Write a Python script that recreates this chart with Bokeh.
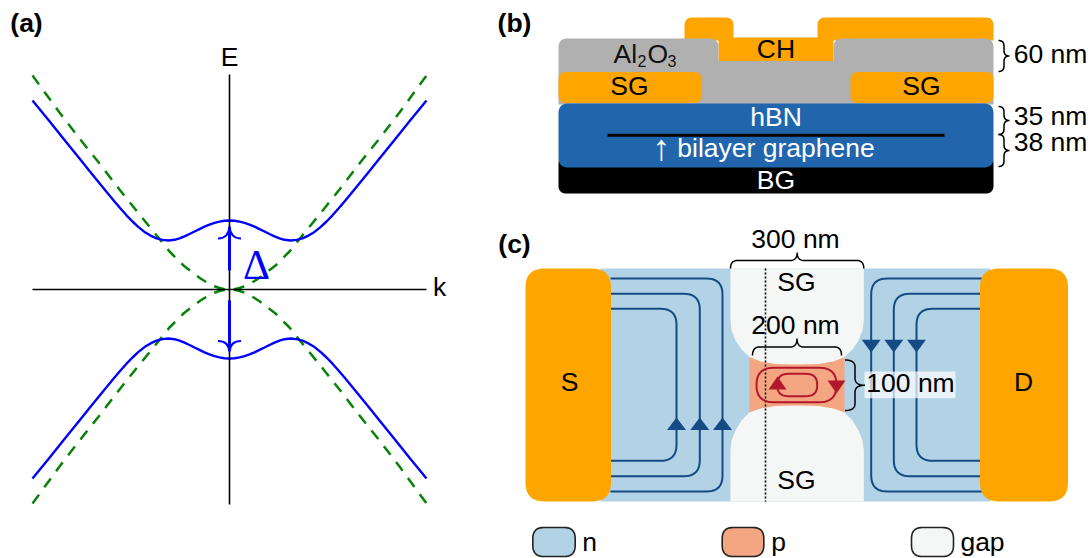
import numpy as np
from bokeh.plotting import figure
from bokeh.core.properties import value
from bokeh.embed import file_html
from bokeh.resources import INLINE

# ---- panel (a): band structure (k right of the axis, E above it)
K_BAND = [0, 5, 10, 15, 20, 25, 30, 35, 40, 45, 50, 55, 61, 67, 73, 79, 85, 91, 97, 103, 109, 115, 121, 129, 140, 150, 165, 180, 197]
E_BAND = [69, 68.7, 67.9, 66.6, 64.9, 62.8, 60.4, 58, 55.5, 53.2, 51.2, 49.7, 49, 49.6, 51.2, 53.9, 57.6, 62.4, 68, 74.2, 81, 88, 95.2, 105, 118.6, 131, 149.6, 168.2, 189]
K_FREE = [0, 5, 10, 15, 20, 25, 29, 35, 46, 60, 72, 90, 110, 130, 150, 170, 197]
E_FREE = [0, 0.4, 1.5, 3.2, 5.5, 8.5, 11, 15.5, 24, 38, 53, 75, 100, 126, 151, 177, 214]

# ---- colours
BLUE = "#0000ff"
GREEN = "#0a820a"
ORANGE = "#ffa500"
GREY = "#b0b0b0"
HBN = "#2166ac"
N_FILL = "#b2d3e6"
P_FILL = "#f4a582"
GAP_FILL = "#f5f7f6"
EDGE_N = "#154a85"
EDGE_P = "#b2182b"

FONT = "Liberation Sans"

# ---- labels: text, x, y, colour, size, style
LABELS = [
    ("(a)", 26, 22.5, "black", 26.5, "bold"),
    ("(b)", 514, 22.5, "black", 26.5, "bold"),
    ("(c)", 514, 243.5, "black", 26.5, "bold"),
    ("E", 229, 56.5, "black", 26.5, "normal"),
    ("k", 439, 286.5, "black", 26.5, "normal"),
    ("CH", 775.5, 48.5, "black", 26.5, "normal"),
    ("SG", 629, 85.5, "black", 26.5, "normal"),
    ("SG", 921, 85.5, "black", 26.5, "normal"),
    ("hBN", 775.5, 116.5, "white", 26.5, "normal"),
    ("bilayer graphene", 775.5, 147.5, "white", 26.5, "normal"),
    ("BG", 775.5, 179.5, "white", 26.5, "normal"),
    ("60 nm", 1050, 53.5, "black", 26.5, "normal"),
    ("35 nm", 1050, 115.5, "black", 26.5, "normal"),
    ("38 nm", 1050, 141.5, "black", 26.5, "normal"),
    ("300 nm", 795, 238.5, "black", 26.5, "normal"),
    ("200 nm", 795, 324.5, "black", 26.5, "normal"),
    ("100 nm", 910, 382.5, "black", 26.5, "normal"),
    ("SG", 796, 281.5, "black", 26.5, "normal"),
    ("SG", 796, 479.5, "black", 26.5, "normal"),
    ("S", 569, 381.5, "black", 26.5, "normal"),
    ("D", 1023, 381.5, "black", 26.5, "normal"),
    ("n", 589, 541.5, "black", 26.5, "normal"),
    ("p", 778, 541.5, "black", 26.5, "normal"),
    ("gap", 982, 541.5, "black", 26.5, "normal"),
]


def rounded(pts, radii, closed=True):
    """Polygon or open path through pts with rounded corners of the given radii."""
    pts = [np.array(q, float) for q in pts]
    n = len(pts)
    out = []
    for i in range(n):
        r = radii[i] if isinstance(radii, (list, tuple)) else radii
        end = not closed and (i == 0 or i == n - 1)
        if r == 0 or end:
            out.append(pts[i])
            continue
        a = pts[i - 1]
        b = pts[i]
        c = pts[(i + 1) % n]
        p0 = b + (a - b) / np.linalg.norm(a - b) * r
        p1 = b + (c - b) / np.linalg.norm(c - b) * r
        for t in np.linspace(0, 1, 12):
            out.append((1 - t) ** 2 * p0 + 2 * t * (1 - t) * b + t ** 2 * p1)
    arr = np.array(out)
    return arr[:, 0].tolist(), arr[:, 1].tolist()


def rrect(x0, y0, x1, y1, r):
    return rounded([(x0, y0), (x1, y0), (x1, y1), (x0, y1)], r)


def brace(x0, y0, x1, y1, h, r=None):
    """Curly brace from (x0,y0) to (x1,y1); the tip points to the left of travel (up / right)."""
    a = np.array([x0, y0], float)
    b = np.array([x1, y1], float)
    L = np.linalg.norm(b - a)
    d = (b - a) / L
    nrm = np.array([d[1], -d[0]])
    r = r if r is not None else h / 2
    t = np.linspace(0, 1, 12)[:, None]
    seg = []
    def q(p0, c, p1):
        seg.append((1 - t) ** 2 * p0 + 2 * t * (1 - t) * c + t ** 2 * p1)
    def P(u, v):
        return np.array([[u, v]], float)
    q(P(0, 0), P(0, h / 2), P(r, h / 2))
    q(P(L / 2 - r, h / 2), P(L / 2, h / 2), P(L / 2, h))
    q(P(L / 2, h), P(L / 2, h / 2), P(L / 2 + r, h / 2))
    q(P(L - r, h / 2), P(L, h / 2), P(L, 0))
    uv = np.vstack(seg)
    xy = a + uv[:, [0]] * d + uv[:, [1]] * nrm
    return xy[:, 0].tolist(), xy[:, 1].tolist()


p = figure(width=1088, height=558, x_range=(0, 1088), y_range=(558, 0),
           output_backend="svg", toolbar_location=None, min_border=0)
p.axis.visible = False
p.grid.visible = False
p.outline_line_color = None

# ---------------- panel (a)
X0, Y0 = 229, 289
k = np.array(K_BAND, float)
e = np.array(E_BAND, float)
kf = np.array(K_FREE, float)
ef = np.array(E_FREE, float)
xf = np.concatenate([X0 - kf[::-1], X0 + kf[1:]])
yf = np.concatenate([ef[::-1], ef[1:]])
p.line(xf, Y0 - yf, line_color=GREEN, line_width=2.5, line_dash="11 9")
p.line(xf, Y0 + yf, line_color=GREEN, line_width=2.5, line_dash="11 9")
xb = np.concatenate([X0 - k[::-1], X0 + k[1:]])
yb = np.concatenate([e[::-1], e[1:]])
p.line(xb, Y0 - yb, line_color=BLUE, line_width=2.4)
p.line(xb, Y0 + yb, line_color=BLUE, line_width=2.4)
p.line([32, 426], [Y0, Y0], line_color="black", line_width=1.6)
p.line([X0, X0], [74, 504], line_color="black", line_width=1.6)
p.line([X0, X0], [270, 227], line_color=BLUE, line_width=3)
p.line([X0, X0], [300, 350], line_color=BLUE, line_width=3)
p.quadratic(x0=[X0, X0], y0=[226, 226], x1=[217.5, 240.5], y1=[238, 238],
            cx=[X0 - 1, X0 + 1], cy=[238, 238], line_color=BLUE, line_width=2)
p.quadratic(x0=[X0, X0], y0=[351, 351], x1=[217.5, 240.5], y1=[340.5, 340.5],
            cx=[X0 - 1, X0 + 1], cy=[340.5, 340.5], line_color=BLUE, line_width=2)
p.text([256], [264], text=["\u0394"], text_color=BLUE, text_font=value("Liberation Serif"),
       text_font_size="42px", text_align="center", text_baseline="middle")

# ---------------- panel (b)
xs, ys = rounded([(684, 40), (684, 17), (733, 17), (733, 37), (817, 37), (817, 17), (993, 17), (993, 40),
                  (833, 40), (833, 61), (718, 61), (718, 40)],
                 [0, 8, 8, 0, 0, 8, 8, 0, 0, 0, 0, 0])
p.patch(xs, ys, fill_color=ORANGE, line_color=None)
xs, ys = rounded([(558, 38), (718, 38), (718, 60.5), (833, 60.5), (833, 38), (993, 38), (993, 104), (558, 104)],
                 [9, 9, 0, 0, 9, 9, 0, 0])
p.patch(xs, ys, fill_color=GREY, line_color=None)
for x0, x1 in [(558, 701), (850, 993)]:
    xs, ys = rrect(x0, 71.5, x1, 102.5, 8)
    p.patch(xs, ys, fill_color=ORANGE, line_color=None)
xs, ys = rrect(558, 155, 993, 193, 8)
p.patch(xs, ys, fill_color="black", line_color=None)
xs, ys = rrect(558, 103, 993, 167, 10)
p.patch(xs, ys, fill_color=HBN, line_color=None)
p.line([607, 944], [134.7, 134.7], line_color="black", line_width=3)
for args in [(998, 40, 998, 71, 11), (998, 106, 998, 134, 11), (998, 134, 998, 166, 11)]:
    xs, ys = brace(*args)
    p.line(xs, ys, line_color="black", line_width=1.5)
# Al2O3 with real subscripts
for txt, x, y, size in [("Al", 613, 53.5, 26.5), ("2", 637, 60.5, 16), ("O", 647, 53.5, 26.5), ("3", 667, 60.5, 16)]:
    p.text([x], [y], text=[txt], text_color="#111111", text_font=value(FONT), text_font_size=f"{size}px",
           text_align="left", text_baseline="middle")
p.text([661], [147], text=["\u2191"], text_color="white", text_font=value(FONT), text_font_size="36px",
       text_align="center", text_baseline="middle")

# ---------------- panel (c)
p.quad(left=[600], right=[990], top=[268], bottom=[501], fill_color=N_FILL, line_color=None)
p.quad(left=[749], right=[844], top=[350], bottom=[418], fill_color=P_FILL, line_color=None)
GX = [730, 731, 735, 741, 749, 760, 775, 796.6, 818, 833, 844, 852, 858, 862, 863.3]
GY_TOP = [320, 330, 340, 349, 356.5, 361, 363.5, 364, 363.5, 361, 356.5, 349, 340, 330, 320]
GY_BOT = [450, 440, 430, 420, 412, 408, 405.5, 405, 405.5, 408, 412, 420, 430, 440, 450]
p.patch([730] + GX + [863.3], [268] + GY_TOP + [268], fill_color=GAP_FILL, line_color=None)
p.patch([730] + GX + [863.3], [501] + GY_BOT + [501], fill_color=GAP_FILL, line_color=None)
p.line([765, 765], [268, 501], line_color="black", line_width=1.6, line_dash="2 2")

for xv, yt, yb_ in [(722, 278, 491), (699.3, 293.3, 475.7), (676, 308.3, 460.3)]:
    xs, ys = rounded([(610, yt), (xv, yt), (xv, yb_), (610, yb_)], 16, closed=False)
    p.line(xs, ys, line_color=EDGE_N, line_width=2)
    p.patch([xv - 9.5, xv + 9.5, xv], [429.5, 429.5, 417], fill_color=EDGE_N, line_color=None)
for xv, yt, yb_ in [(870.7, 278, 491), (893.3, 293.3, 475.7), (916, 308.3, 460.3)]:
    xs, ys = rounded([(982, yt), (xv, yt), (xv, yb_), (982, yb_)], 16, closed=False)
    p.line(xs, ys, line_color=EDGE_N, line_width=2)
    p.patch([xv - 9.5, xv + 9.5, xv], [339.3, 339.3, 352], fill_color=EDGE_N, line_color=None)

xs, ys = rrect(756, 367.3, 836, 401.7, 17)
p.patch(xs, ys, fill_color=None, line_color=EDGE_P, line_width=2)
xs, ys = rrect(776.7, 373.3, 816.7, 395.7, 11)
p.patch(xs, ys, fill_color=None, line_color=EDGE_P, line_width=2)
p.patch([768, 786, 777], [389, 389, 376], fill_color=EDGE_P, line_color=None)
p.patch([827, 845, 836], [380, 380, 393], fill_color=EDGE_P, line_color=None)

xs, ys = rrect(525, 268, 610.5, 501, 19)
p.patch(xs, ys, fill_color=ORANGE, line_color=None)
xs, ys = rrect(979.5, 268, 1067.5, 501, 19)
p.patch(xs, ys, fill_color=ORANGE, line_color=None)

p.quad(left=[864], right=[955], top=[371], bottom=[397.7], fill_color="white", fill_alpha=0.7, line_color=None)
for args, h in [((730, 268, 863.3, 268), 16), ((752, 355, 841, 355), 17), ((844.5, 359.5, 844.5, 410), 20)]:
    xs, ys = brace(*args, h, r=7)
    p.line(xs, ys, line_color="black", line_width=1.5)

for (x0, x1), fill in zip([(532.3, 574.7), (721.7, 763.3), (911, 953)], [N_FILL, P_FILL, GAP_FILL]):
    xs, ys = rrect(x0, 527, x1, 556, 11)
    p.patch(xs, ys, fill_color=fill, line_color="#222222", line_width=1.6)

# ---------------- all other texts
for txt, x, y, col, size, style in LABELS:
    p.text([x], [y], text=[txt], text_color=col, text_font=value(FONT), text_font_size=f"{size}px",
           text_font_style=style, text_align="center", text_baseline="middle")

open("out.html", "w").write(file_html(p, INLINE))
